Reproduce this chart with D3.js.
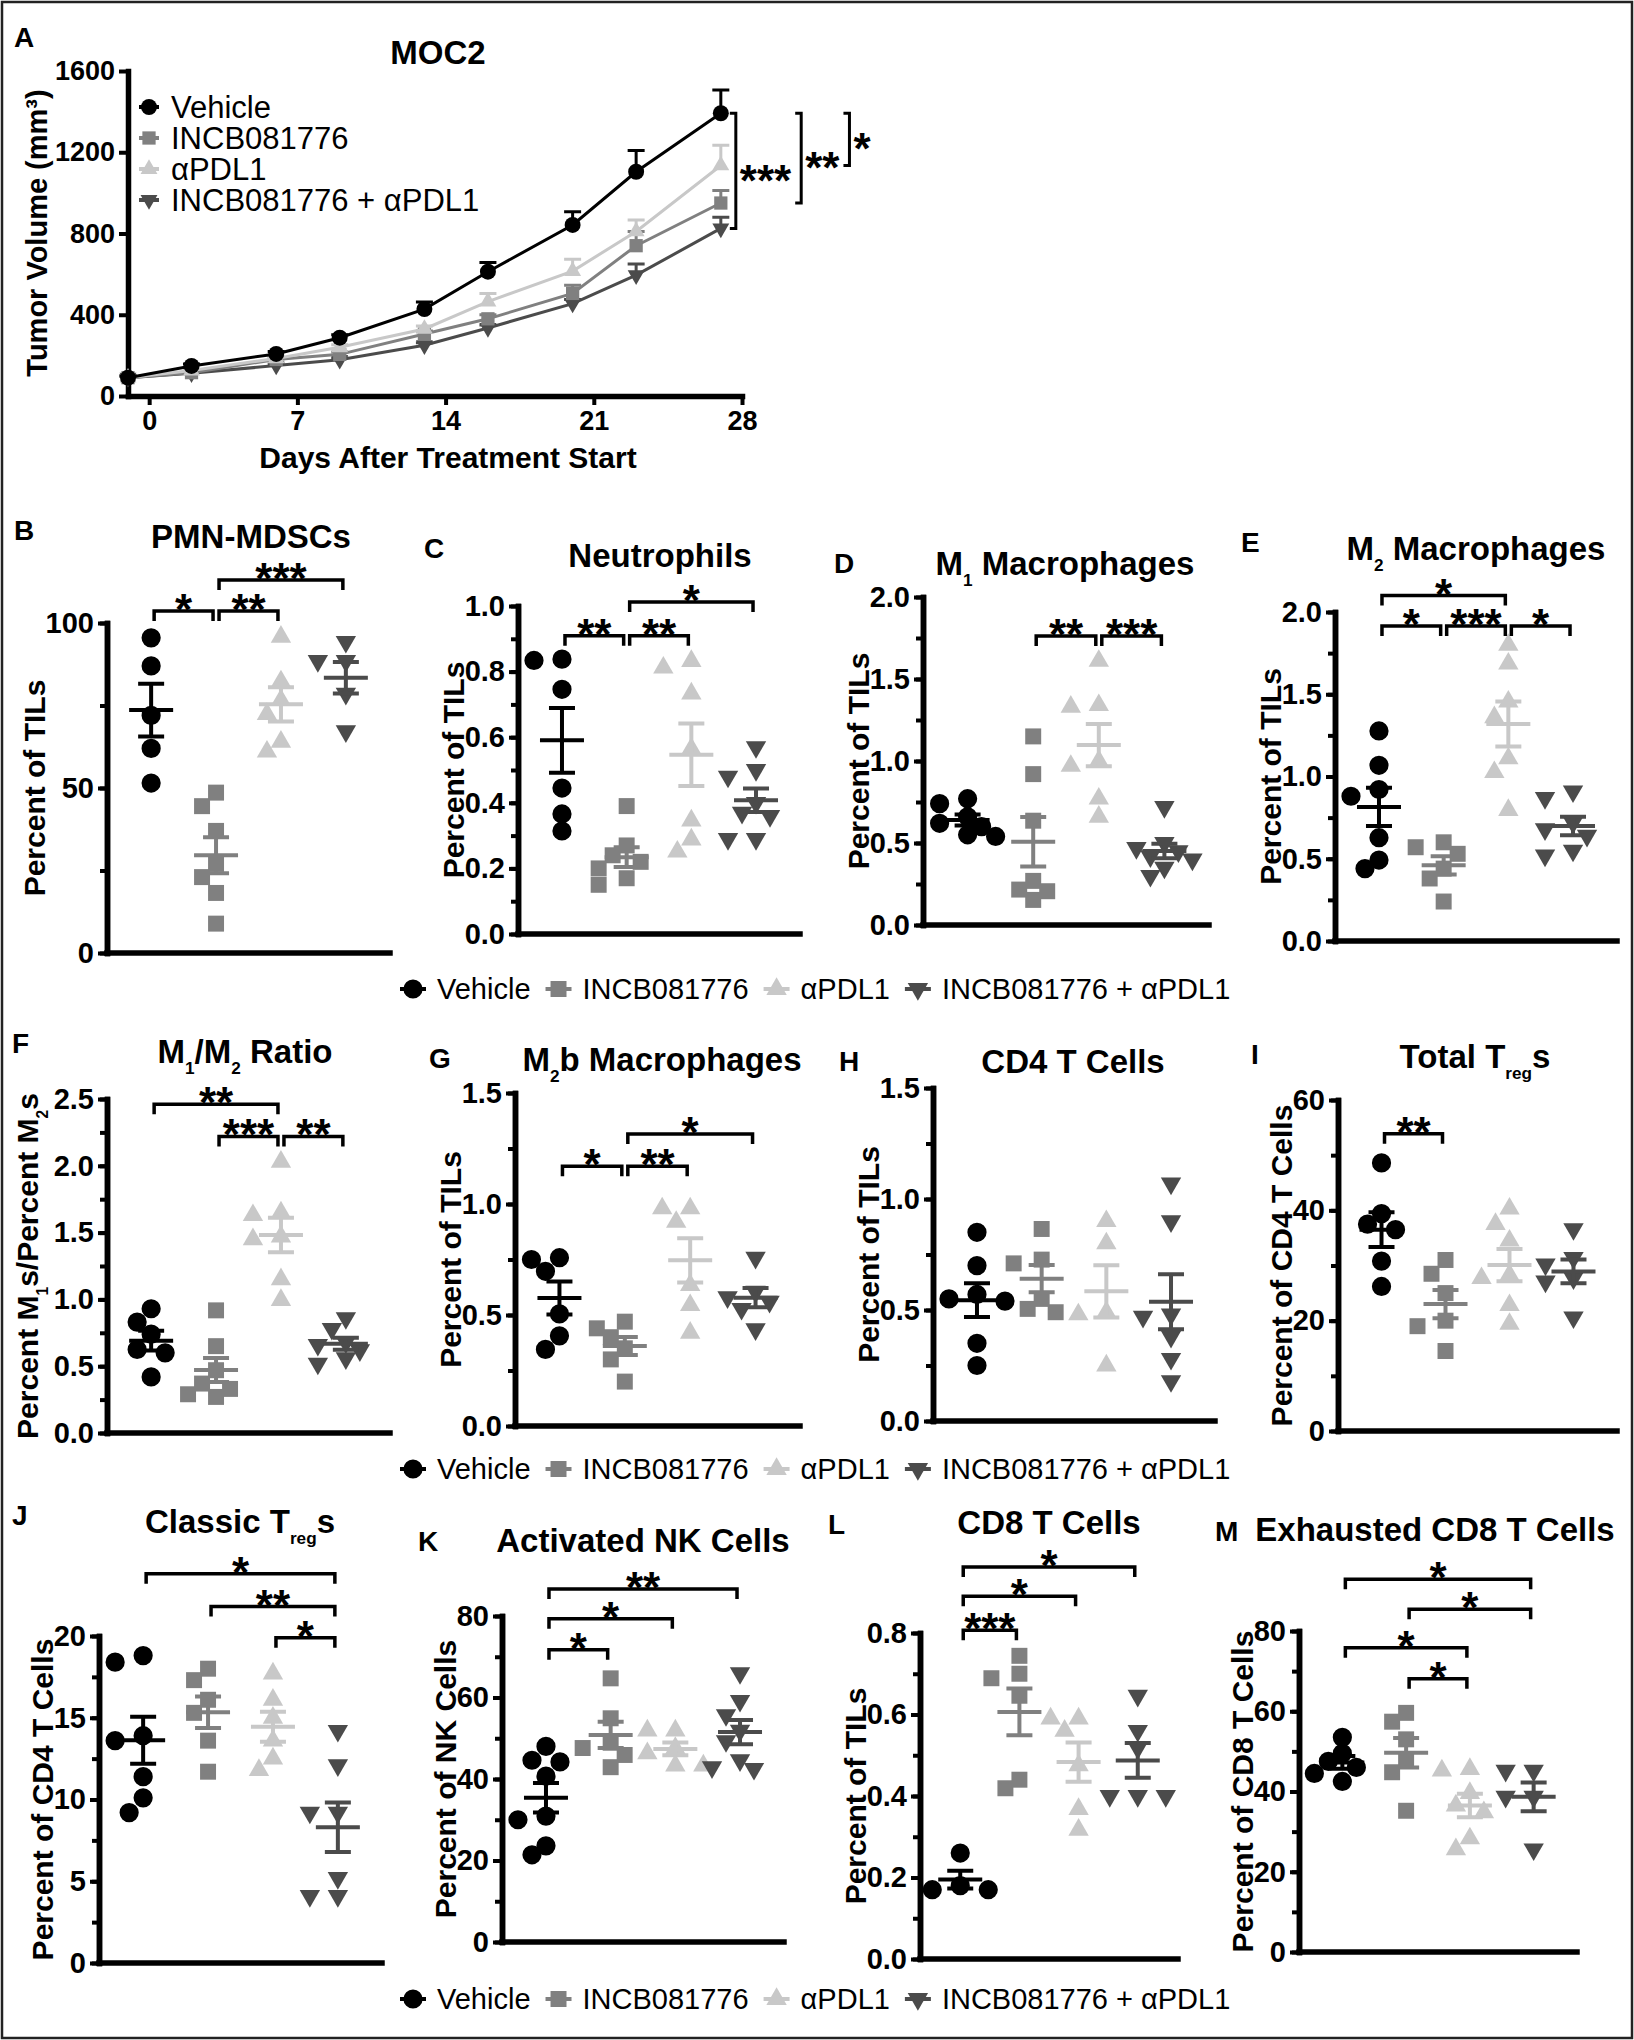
<!DOCTYPE html>
<html>
<head>
<meta charset="utf-8">
<script src="https://cdn.jsdelivr.net/npm/d3@7"></script>
<style>
body { margin: 0; background: #fff; }
svg text { font-family: "Liberation Sans", Arial, Helvetica, sans-serif; }
</style>
</head>
<body>
<svg id="fig" width="1634" height="2040"></svg>
<script>
var groups = ["Vehicle", "INCB081776", "αPDL1", "INCB081776 + αPDL1"];
var groupColors = ["#000000", "#808080", "#c8c8c8", "#4b4b4b"];

// A: tumour growth (mean, SEM)
var days = [-1, 2, 6, 9, 13, 16, 20, 23, 27];
var volVehicle = [90, 148, 207, 287, 428, 612, 842, 1104, 1392];
var semVehicle = [8, 10, 12, 15, 35, 45, 65, 105, 115];
var volIncb = [90, 115, 180, 205, 305, 380, 505, 740, 950];
var semIncb = [8, 8, 10, 12, 15, 20, 40, 70, 62];
var volPdl1 = [90, 125, 185, 240, 330, 465, 615, 810, 1135];
var semPdl1 = [8, 8, 10, 12, 15, 40, 58, 57, 100];
var volCombo = [90, 112, 150, 178, 250, 335, 455, 595, 825];
var semCombo = [8, 8, 8, 10, 12, 15, 20, 55, 55];
var volTicks = [0, 400, 800, 1200, 1600];
var dayTicks = [0, 7, 14, 21, 28];
var moc2Stars = [[0, 3, "***"], [0, 1, "**"], [0, 2, "*"]];

// B-M: one list of values per group
var pmnMdsc = [[95.5, 87, 72, 62, 51.5], [48.6, 44.5, 37, 27, 23, 18.2, 8.9],
  [95.8, 82.3, 76.6, 72.4, 64, 61], [94.3, 88.5, 88.5, 78.6, 67.2]];
var pmnStars = [[0, 1, "*", 103.6], [1, 2, "**", 103.6], [1, 3, "***", 113]];

var neutrophils = [[0.834, 0.838, 0.746, 0.445, 0.366, 0.314], [0.39, 0.27, 0.24, 0.22, 0.2, 0.17, 0.15],
  [0.812, 0.832, 0.733, 0.565, 0.346, 0.288, 0.251], [0.57, 0.5, 0.48, 0.4, 0.37, 0.36, 0.29, 0.29]];
var neutroStars = [[0, 1, "**", 0.909], [1, 2, "**", 0.909], [1, 3, "*", 1.012]];

var m1Macro = [[0.77, 0.74, 0.66, 0.62, 0.6, 0.55, 0.54], [1.15, 0.92, 0.636, 0.269, 0.216, 0.206, 0.153],
  [1.61, 1.34, 1.33, 1.0, 0.97, 0.77, 0.66], [0.72, 0.5, 0.47, 0.45, 0.42, 0.4, 0.35, 0.3]];
var m1Stars = [[1, 2, "**", 1.762], [2, 3, "***", 1.762]];

var m2Macro = [[1.277, 1.068, 0.921, 0.88, 0.628, 0.492, 0.44], [0.6, 0.57, 0.53, 0.44, 0.38, 0.24],
  [1.8, 1.686, 1.455, 1.36, 1.11, 1.026, 0.796], [0.91, 0.87, 0.72, 0.68, 0.64, 0.55, 0.52]];
var m2Stars = [[0, 2, "*", 2.1], [0, 1, "*", 1.915], [1, 2, "***", 1.915], [2, 3, "*", 1.915]];

var m1m2Ratio = [[0.93, 0.83, 0.74, 0.625, 0.6, 0.42], [0.918, 0.65, 0.47, 0.37, 0.33, 0.29, 0.27],
  [2.03, 1.65, 1.63, 1.47, 1.45, 1.15, 0.995], [0.86, 0.78, 0.68, 0.66, 0.62, 0.56, 0.52]];
var ratioStars = [[0, 2, "**", 2.46], [1, 2, "***", 2.22], [2, 3, "**", 2.22]];

var m2bMacro = [[0.758, 0.75, 0.697, 0.505, 0.406, 0.345], [0.47, 0.44, 0.4, 0.35, 0.3, 0.2],
  [0.98, 0.98, 0.919, 0.635, 0.544, 0.42], [0.758, 0.605, 0.58, 0.56, 0.528, 0.436]];
var m2bStars = [[0, 1, "*", 1.17], [1, 2, "**", 1.17], [1, 3, "*", 1.315]];

var cd4T = [[0.85, 0.7, 0.57, 0.55, 0.54, 0.35, 0.25], [0.865, 0.727, 0.71, 0.55, 0.505, 0.49],
  [0.9, 0.8, 0.49, 0.48, 0.25], [1.07, 0.9, 0.48, 0.47, 0.38, 0.28, 0.18]];
var cd4Stars = [];

var totalTreg = [[48.6, 39.4, 37.5, 36.5, 30.8, 26.2], [31, 28.5, 25, 20, 19, 14.5],
  [40.3, 37.5, 34.5, 28.3, 27.7, 22.8, 19.4], [36.6, 31.4, 30.2, 27.7, 27.1, 20.6]];
var tregStars = [[0, 1, "**", 53.9]];

var classicTreg = [[18.8, 18.4, 13.9, 13.6, 11.4, 10.1, 9.2], [18, 17.3, 16.1, 15.3, 13.6, 11.7],
  [17.7, 16.1, 15, 13.6, 12.5, 11.8], [14.2, 12.1, 9.2, 9.2, 5.2, 4.1, 4.1]];
var classicStars = [[0, 3, "*", 23.8], [1, 3, "**", 21.8], [2, 3, "*", 19.9]];

var nkActivated = [[48, 44.6, 44.2, 40.7, 30.9, 30, 23.6, 21.4], [64.7, 54.9, 48.9, 47.6, 45.9, 42.9],
  [51.9, 51.9, 47.6, 46.3, 43.3, 43.3], [66, 59.2, 55.7, 51.9, 49.3, 44.6, 42.9, 42.5]];
var nkStars = [[0, 3, "**", 86.6], [0, 2, "*", 79.3], [0, 1, "*", 71.7]];

var cd8T = [[0.26, 0.18, 0.17, 0.17], [0.744, 0.7, 0.689, 0.646, 0.44, 0.419],
  [0.59, 0.59, 0.56, 0.475, 0.368, 0.317], [0.646, 0.56, 0.518, 0.4, 0.4, 0.4]];
var cd8Stars = [[0, 3, "*", 0.962], [0, 2, "*", 0.89], [0, 1, "***", 0.807]];

var cd8Exhausted = [[53.5, 49.5, 47.5, 46, 44.5, 42.5], [59.6, 57.4, 53, 47.8, 44.8, 35.2],
  [45.2, 45.6, 39.6, 36.5, 34.8, 28.3, 25.6], [45.2, 45.2, 38.7, 38.7, 25.6]];
var exhStars = [[0, 3, "*", 92.9], [1, 3, "*", 85.4], [0, 2, "*", 75.8], [1, 2, "*", 68.1]];

var svg = d3.select("#fig");
var symTypes = [d3.symbolCircle, d3.symbolSquare, d3.symbolTriangle, d3.symbolTriangle];
var symScale = [1, 0.88, 0.62, 0.62];

svg.append("rect").attr("x", 2).attr("y", 2).attr("width", 1630).attr("height", 2036)
  .attr("fill", "none").attr("stroke", "#222").attr("stroke-width", 2.5);

function marker(g, gi, x, y, size) {
  g.append("path")
    .attr("d", d3.symbol(symTypes[gi], size * symScale[gi])())
    .attr("transform", "translate(" + x + "," + y + ")" + (gi === 3 ? " rotate(180)" : ""))
    .attr("fill", groupColors[gi]);
}

// text with subscripts: parts are strings or {sub: "..."}
function rich(t, parts, fs) {
  var down = 0;
  parts.forEach(function(p) {
    var isSub = typeof p !== "string";
    var span = t.append("tspan").text(isSub ? p.sub : p);
    if (isSub) {
      span.attr("font-size", fs * 0.52).attr("dy", fs * 0.32);
      down = fs * 0.32;
    } else if (down) {
      span.attr("dy", -down);
      down = 0;
    }
  });
}

function styleAxis(sel, fs) {
  sel.attr("font-size", fs).attr("font-family", null).attr("font-weight", "bold");
  sel.selectAll("line").attr("stroke", "#000").attr("stroke-width", 4);
  sel.selectAll("text").attr("fill", "#000");
  sel.select(".domain").attr("stroke", "#000").attr("stroke-width", 5.5).attr("stroke-linecap", "square");
}

function legendRow(x0, yc, lineHalf, textGap, gap, fs, size, vertical, dy) {
  var g = svg.append("g");
  var xx = x0, yy = yc;
  groups.forEach(function(name, gi) {
    var cx = xx + lineHalf;
    g.append("line").attr("x1", cx - lineHalf).attr("x2", cx + lineHalf).attr("y1", yy).attr("y2", yy)
      .attr("stroke", groupColors[gi]).attr("stroke-width", 4);
    marker(g, gi, cx, yy, size);
    var t = g.append("text").attr("x", cx + textGap).attr("y", yy + fs * 0.36)
      .attr("font-size", fs).attr("fill", "#000").text(name);
    if (vertical) {
      yy += dy;
    } else {
      xx = cx + textGap + t.node().getComputedTextLength() + gap;
    }
  });
}

// ---- panel A ----
(function() {
  var g = svg.append("g");
  var x = d3.scaleLinear().domain([-1, 28]).range([128, 742]);
  var y = d3.scaleLinear().domain([0, 1600]).range([396, 71]);
  var series = [[volVehicle, semVehicle], [volIncb, semIncb], [volPdl1, semPdl1], [volCombo, semCombo]];

  g.append("g").attr("transform", "translate(128,0)")
    .call(d3.axisLeft(y).tickValues(volTicks).tickSize(9).tickPadding(4).tickFormat(d3.format("d")).tickSizeOuter(0))
    .call(styleAxis, 27);
  g.append("g").attr("transform", "translate(0,396)")
    .call(d3.axisBottom(x).tickValues(dayTicks).tickSize(9).tickPadding(6).tickSizeOuter(0))
    .call(styleAxis, 27);

  var line = d3.line().x(function(d, i) { return x(days[i]); }).y(function(d) { return y(d); });
  [3, 1, 2, 0].forEach(function(gi) {
    var vals = series[gi][0], sem = series[gi][1];
    vals.forEach(function(v, i) {
      var top = y(v + sem[i]);
      g.append("path").attr("d", "M" + x(days[i]) + "," + y(v) + "V" + top + "M" + (x(days[i]) - 8.5) + "," + top + "h17")
        .attr("stroke", groupColors[gi]).attr("stroke-width", 3).attr("fill", "none");
    });
    g.append("path").attr("d", line(vals)).attr("fill", "none")
      .attr("stroke", groupColors[gi]).attr("stroke-width", 3);
    vals.forEach(function(v, i) { marker(g, gi, x(days[i]), y(v), 200); });
  });

  // significance brackets at the last time point
  var last = days.length - 1;
  var bx = x(days[last]) + 15;
  moc2Stars.forEach(function(s) {
    var y1 = y(series[s[0]][0][last]), y2 = y(series[s[1]][0][last]);
    g.append("path").attr("d", "M" + (bx - 6) + "," + y1 + "H" + bx + "V" + y2 + "H" + (bx - 6))
      .attr("fill", "none").attr("stroke", "#000").attr("stroke-width", 3);
    var t = g.append("text").attr("x", bx + 4).attr("y", (y1 + y2) / 2 + 25)
      .attr("font-size", 44).attr("font-weight", "bold").text(s[2]);
    bx += 4 + t.node().getComputedTextLength() + 10;
  });

  g.append("text").attr("x", 14).attr("y", 47).attr("font-size", 28).attr("font-weight", "bold").text("A");
  g.append("text").attr("x", 438).attr("y", 64).attr("text-anchor", "middle")
    .attr("font-size", 33).attr("font-weight", "bold").text("MOC2");
  g.append("text").attr("transform", "translate(47,233) rotate(-90)").attr("text-anchor", "middle")
    .attr("font-size", 29).attr("font-weight", "bold").text("Tumor Volume (mm³)");
  g.append("text").attr("x", 448).attr("y", 468).attr("text-anchor", "middle")
    .attr("font-size", 30).attr("font-weight", "bold").text("Days After Treatment Start");

  legendRow(139, 107, 10, 22, 0, 31, 200, true, 31);
})();

// ---- dot plot panels ----
var panels = [
  { letter: "B", lx: 14, ly: 540, title: ["PMN-MDSCs"], tx: 251, ty: 548, ylab: ["Percent of TILs"],
    data: pmnMdsc, stars: pmnStars, max: 100, step: 50, minor: 25, fmt: "d", left: 107, right: 390, top: 623, bottom: 953 },
  { letter: "C", lx: 424, ly: 558, title: ["Neutrophils"], tx: 660, ty: 567, ylab: ["Percent of TILs"],
    data: neutrophils, stars: neutroStars, max: 1, step: 0.2, minor: 0.1, fmt: ".1f", left: 518, right: 800, top: 606, bottom: 934 },
  { letter: "D", lx: 834, ly: 573, title: ["M", { sub: "1" }, " Macrophages"], tx: 1065, ty: 575, ylab: ["Percent of TILs"],
    data: m1Macro, stars: m1Stars, max: 2, step: 0.5, minor: 0.25, fmt: ".1f", left: 923, right: 1209, top: 597, bottom: 925 },
  { letter: "E", lx: 1241, ly: 552, title: ["M", { sub: "2" }, " Macrophages"], tx: 1476, ty: 560, ylab: ["Percent of TILs"],
    data: m2Macro, stars: m2Stars, max: 2, step: 0.5, minor: 0.25, fmt: ".1f", left: 1335, right: 1617, top: 612, bottom: 941 },
  { letter: "F", lx: 12, ly: 1053, title: ["M", { sub: "1" }, "/M", { sub: "2" }, " Ratio"], tx: 245, ty: 1063,
    ylab: ["Percent M", { sub: "1" }, "s/Percent M", { sub: "2" }, "s"], labX: 27,
    data: m1m2Ratio, stars: ratioStars, max: 2.5, step: 0.5, minor: 0.25, fmt: ".1f", left: 107, right: 390, top: 1099, bottom: 1433 },
  { letter: "G", lx: 429, ly: 1068, title: ["M", { sub: "2" }, "b Macrophages"], tx: 662, ty: 1071, ylab: ["Percent of TILs"],
    data: m2bMacro, stars: m2bStars, max: 1.5, step: 0.5, minor: 0.25, fmt: ".1f", left: 515, right: 800, top: 1093, bottom: 1426 },
  { letter: "H", lx: 839, ly: 1071, title: ["CD4 T Cells"], tx: 1073, ty: 1073, ylab: ["Percent of TILs"],
    data: cd4T, stars: cd4Stars, max: 1.5, step: 0.5, minor: 0.25, fmt: ".1f", left: 933, right: 1215, top: 1088, bottom: 1421 },
  { letter: "I", lx: 1251, ly: 1064, title: ["Total T", { sub: "reg" }, "s"], tx: 1475, ty: 1068, ylab: ["Percent of CD4 T Cells"],
    data: totalTreg, stars: tregStars, max: 60, step: 20, minor: 10, fmt: "d", left: 1338, right: 1617, top: 1100, bottom: 1431 },
  { letter: "J", lx: 12, ly: 1525, title: ["Classic T", { sub: "reg" }, "s"], tx: 240, ty: 1533, ylab: ["Percent of CD4 T Cells"],
    data: classicTreg, stars: classicStars, max: 20, step: 5, minor: 2.5, fmt: "d", left: 99, right: 382, top: 1636, bottom: 1963 },
  { letter: "K", lx: 418, ly: 1551, title: ["Activated NK Cells"], tx: 643, ty: 1552, ylab: ["Percent of NK Cells"],
    data: nkActivated, stars: nkStars, max: 80, step: 20, minor: 10, fmt: "d", left: 502, right: 784, top: 1616, bottom: 1942 },
  { letter: "L", lx: 828, ly: 1534, title: ["CD8 T Cells"], tx: 1049, ty: 1534, ylab: ["Percent of TILs"],
    data: cd8T, stars: cd8Stars, max: 0.8, step: 0.2, minor: 0.1, fmt: ".1f", left: 920, right: 1178, top: 1633, bottom: 1959 },
  { letter: "M", lx: 1215, ly: 1541, title: ["Exhausted CD8 T Cells"], tx: 1435, ty: 1541, ylab: ["Percent of CD8 T Cells"],
    data: cd8Exhausted, stars: exhStars, max: 80, step: 20, minor: 10, fmt: "d", left: 1299, right: 1577, top: 1631, bottom: 1952 }
];

// nudge overlapping points sideways, keeping the cloud narrow
function spread(values, y, cx, minDist, step) {
  var sorted = values.slice().sort(function(a, b) { return b - a; });
  var offsets = [0, -step, step, -2 * step, 2 * step];
  var placed = [];
  sorted.forEach(function(v) {
    var yy = y(v), best = null, bestD = -1;
    for (var k = 0; k < offsets.length; k++) {
      var xx = cx + offsets[k];
      var dmin = d3.min(placed, function(p) { return Math.hypot(p.x - xx, p.y - yy); });
      if (dmin === undefined || dmin >= minDist) { best = xx; break; }
      if (dmin > bestD) { bestD = dmin; best = xx; }
    }
    placed.push({ x: best, y: yy });
  });
  return placed;
}

function dotPanel(p) {
  var g = svg.append("g");
  var y = d3.scaleLinear().domain([0, p.max]).range([p.bottom, p.top]);
  var x = d3.scalePoint().domain(groups).range([p.left, p.right]).padding(0.68);
  var eps = p.minor / 100;

  g.append("g").attr("transform", "translate(" + p.left + ",0)")
    .call(d3.axisLeft(y).tickValues(d3.range(0, p.max + eps, p.minor)).tickSize(7).tickFormat("").tickSizeOuter(0))
    .call(styleAxis, 29);
  var ax = g.append("g").attr("transform", "translate(" + p.left + ",0)")
    .call(d3.axisLeft(y).tickValues(d3.range(0, p.max + eps, p.step)).tickSize(9).tickPadding(4)
      .tickFormat(d3.format(p.fmt)).tickSizeOuter(0))
    .call(styleAxis, 29);
  g.append("line").attr("x1", p.left).attr("x2", p.right).attr("y1", p.bottom).attr("y2", p.bottom)
    .attr("stroke", "#000").attr("stroke-width", 5.5).attr("stroke-linecap", "square");

  var maxW = d3.max(ax.selectAll("text").nodes(), function(n) { return n.getComputedTextLength(); });
  var labX = p.labX !== undefined ? p.labX : p.left - 13 - maxW - 12;
  var yl = g.append("text").attr("transform", "translate(" + (labX + 11) + "," + (p.top + p.bottom) / 2 + ") rotate(-90)")
    .attr("text-anchor", "middle").attr("font-size", 30).attr("font-weight", "bold");
  rich(yl, p.ylab, 30);

  p.data.forEach(function(vals, gi) {
    var cx = x(groups[gi]);
    spread(vals, y, cx, 16, 14).forEach(function(pt) { marker(g, gi, pt.x, pt.y, 290); });
    var m = d3.mean(vals), se = d3.deviation(vals) / Math.sqrt(vals.length);
    g.append("path").attr("d",
        "M" + (cx - 22) + "," + y(m) + "h44" +
        "M" + cx + "," + y(m + se) + "V" + y(m - se) +
        "M" + (cx - 13) + "," + y(m + se) + "h26" +
        "M" + (cx - 13) + "," + y(m - se) + "h26")
      .attr("fill", "none").attr("stroke", groupColors[gi]).attr("stroke-width", 4);
  });

  p.stars.forEach(function(s) {
    var yy = y(s[3]);
    var x1 = x(groups[s[0]]) + 3, x2 = x(groups[s[1]]) - 3;
    g.append("path").attr("d", "M" + x1 + "," + (yy + 10) + "V" + yy + "H" + x2 + "V" + (yy + 10))
      .attr("fill", "none").attr("stroke", "#000").attr("stroke-width", 3.5);
    g.append("text").attr("x", (x1 + x2) / 2).attr("y", yy + 14).attr("text-anchor", "middle")
      .attr("font-size", 44).attr("font-weight", "bold").text(s[2]);
  });

  g.append("text").attr("x", p.lx).attr("y", p.ly).attr("font-size", 28).attr("font-weight", "bold").text(p.letter);
  var tt = g.append("text").attr("x", p.tx).attr("y", p.ty).attr("text-anchor", "middle")
    .attr("font-size", 33).attr("font-weight", "bold");
  rich(tt, p.title, 33);
}

panels.forEach(dotPanel);

legendRow(400, 989, 13, 24, 15, 29, 290, false, 0);
legendRow(400, 1469, 13, 24, 15, 29, 290, false, 0);
legendRow(400, 1999, 13, 24, 15, 29, 290, false, 0);
</script>
</body>
</html>
